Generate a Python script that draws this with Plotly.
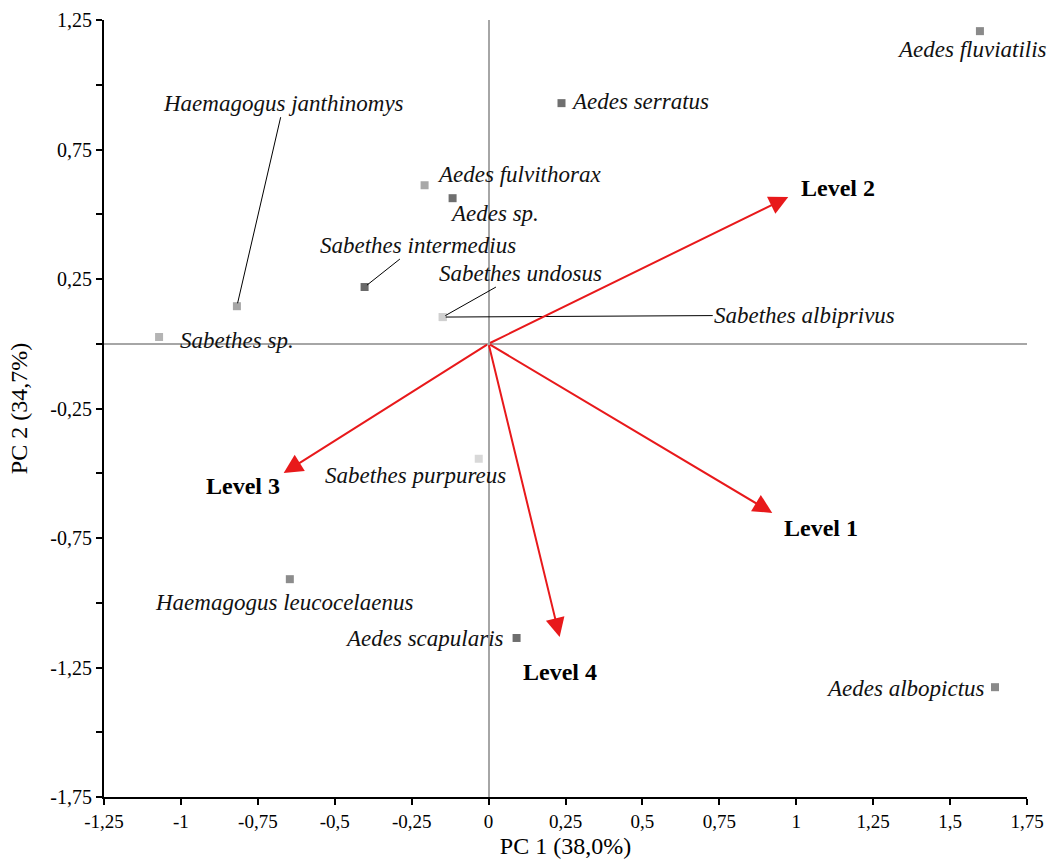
import plotly.graph_objects as go

# ---- data ----
species = ["Aedes fluviatilis", "Aedes serratus", "Aedes fulvithorax", "Aedes sp.",
           "Sabethes intermedius", "Haemagogus janthinomys", "Sabethes sp.",
           "Sabethes undosus", "Sabethes albiprivus", "Sabethes purpureus",
           "Haemagogus leucocelaenus", "Aedes scapularis", "Aedes albopictus"]
pc1 = [1.597, 0.237, -0.208, -0.117, -0.403, -0.818, -1.071, -0.149, -0.149, -0.032,
       -0.646, 0.091, 1.646]
pc2 = [1.207, 0.929, 0.612, 0.562, 0.219, 0.145, 0.026, 0.103, 0.103, -0.444,
       -0.909, -1.136, -1.326]
marker_colors = ["#8a8a8a", "#6f6f6f", "#a8a8a8", "#6f6f6f", "#6a6a6a", "#a6a6a6",
                 "#b4b4b4", "#d0d0d0", "#d0d0d0", "#d8d8d8", "#8c8c8c", "#6e6e6e", "#8a8a8a"]

levels = ["Level 1", "Level 2", "Level 3", "Level 4"]
load1 = [0.922, 0.974, -0.666, 0.231]
load2 = [-0.653, 0.567, -0.499, -1.132]

x_ticks = [-1.25, -1, -0.75, -0.5, -0.25, 0, 0.25, 0.5, 0.75, 1, 1.25, 1.5, 1.75]
y_ticks = [-1.75, -1.5, -1.25, -1, -0.75, -0.5, -0.25, 0, 0.25, 0.5, 0.75, 1, 1.25]
y_labelled = [-1.75, -1.25, -0.75, -0.25, 0.25, 0.75, 1.25]


def fmt(v):
    return f"{v:g}".replace(".", ",")


# ---- label placement (pixel offsets relative to the point) ----
# plain labels: (xanchor, xshift, yshift)
plain = {
    "Aedes fluviatilis": ("center", -8, -18),
    "Aedes serratus": ("left", 7, 2),
    "Aedes fulvithorax": ("left", 10, 11),
    "Aedes sp.": ("left", -5, -15),
    "Sabethes sp.": ("left", 19, -3),
    "Sabethes purpureus": ("right", 29, -17),
    "Haemagogus leucocelaenus": ("center", -6, -23),
    "Aedes scapularis": ("right", -11, -1),
    "Aedes albopictus": ("right", -8, -1),
}
# leader-line labels: (ax, ay) pixel offsets of text centre
leader = {
    "Sabethes intermedius": (53, -42),
    "Haemagogus janthinomys": (47, -203),
    "Sabethes undosus": (78, -44),
    "Sabethes albiprivus": (362, -2),
}
level_shift = {"Level 1": (49, -15), "Level 2": (50, 9), "Level 3": (-41, -13), "Level 4": (0, -35)}

SERIF = "Liberation Serif"
LABEL_FONT = dict(family=SERIF, size=23, color="#111111", style="italic")

fig = go.Figure()
fig.add_trace(go.Scatter(
    x=pc1, y=pc2, mode="markers",
    marker=dict(symbol="square", size=8, color=marker_colors, line=dict(width=0)),
    hovertext=species, showlegend=False,
))

annotations = []
for name, x, y in zip(species, pc1, pc2):
    if name in plain:
        xa, xs, ys = plain[name]
        annotations.append(dict(x=x, y=y, xref="x", yref="y", text=name, showarrow=False,
                                xanchor=xa, yanchor="middle", xshift=xs, yshift=ys,
                                font=LABEL_FONT))
    else:
        ax, ay = leader[name]
        annotations.append(dict(x=x, y=y, xref="x", yref="y", text=name, showarrow=True,
                                ax=ax, ay=ay, arrowhead=0, arrowwidth=1, arrowcolor="#000000",
                                standoff=3, font=LABEL_FONT))

for name, x, y in zip(levels, load1, load2):
    annotations.append(dict(x=x, y=y, xref="x", yref="y", ax=0, ay=0, axref="x", ayref="y",
                            text="", showarrow=True, arrowhead=2, arrowsize=1.9,
                            arrowwidth=2, arrowcolor="#e8191b"))
    xs, ys = level_shift[name]
    annotations.append(dict(x=x, y=y, xref="x", yref="y", text="<b>" + name + "</b>",
                            showarrow=False, xshift=xs, yshift=ys,
                            font=dict(family=SERIF, size=24, color="#000000")))

fig.update_layout(
    width=1056, height=868,
    margin=dict(l=104, r=29, t=20, b=71),
    paper_bgcolor="white", plot_bgcolor="white",
    annotations=annotations,
    font=dict(family=SERIF, color="#000000"),
    xaxis=dict(
        range=[-1.25, 1.75], showgrid=False, automargin=False,
        zeroline=True, zerolinecolor="#a6a6a6", zerolinewidth=2,
        showline=True, linecolor="#000000", linewidth=2,
        ticks="outside", ticklen=6, tickwidth=2, tickcolor="#000000",
        tickvals=x_ticks, ticktext=[fmt(v) for v in x_ticks],
        tickfont=dict(family=SERIF, size=19),
        title=dict(text="PC 1 (38,0%)", font=dict(family=SERIF, size=24), standoff=6),
    ),
    yaxis=dict(
        range=[-1.75, 1.25], showgrid=False, automargin=False,
        zeroline=True, zerolinecolor="#a6a6a6", zerolinewidth=2,
        showline=True, linecolor="#000000", linewidth=2,
        ticks="outside", ticklen=6, tickwidth=2, tickcolor="#000000",
        tickvals=y_ticks, ticktext=[fmt(v) if v in y_labelled else "" for v in y_ticks],
        tickfont=dict(family=SERIF, size=20),
        title=dict(text="PC 2 (34,7%)", font=dict(family=SERIF, size=24), standoff=16),
    ),
)

fig.write_html("out.html")
